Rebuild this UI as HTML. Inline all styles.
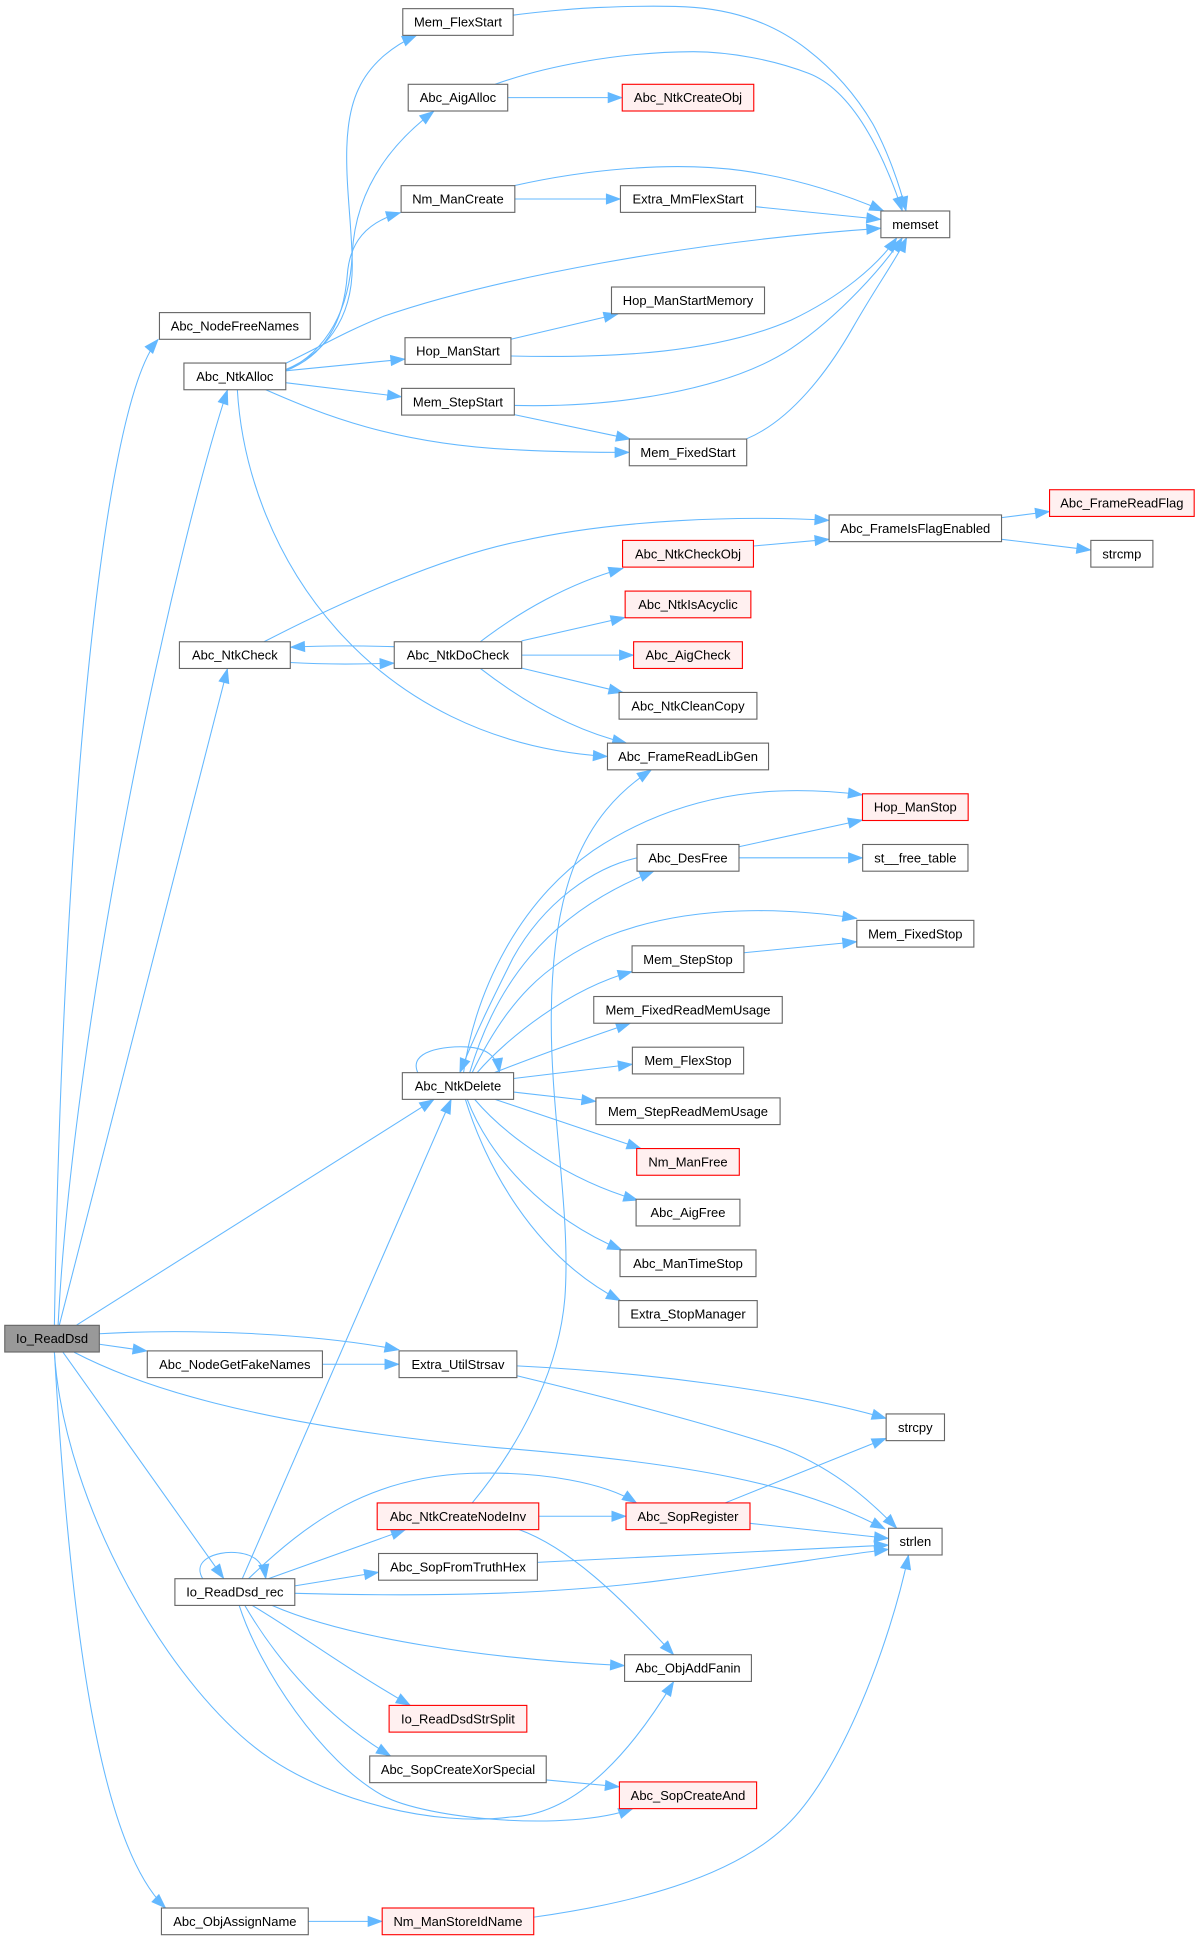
<!DOCTYPE html>
<html><head><meta charset="utf-8"><style>
html,body{margin:0;padding:0;background:#fff;}
svg{display:block;}
.n{fill:#fff;stroke:#666;stroke-width:0.9;}
.r{fill:#fff0f0;stroke:#f00;stroke-width:0.9;}
.g{fill:#999;stroke:#666;stroke-width:0.9;}
text{font-family:"Liberation Sans",Arial,sans-serif;font-size:10.5px;fill:#000;text-anchor:middle;}
.e path{fill:none;stroke:#63b8ff;stroke-width:0.85;marker-end:url(#a);}
</style></head><body>
<svg width="1199" height="1941" viewBox="0 0 970 1570.3" preserveAspectRatio="none" xmlns="http://www.w3.org/2000/svg">
<defs><marker id="a" markerUnits="userSpaceOnUse" markerWidth="12" markerHeight="9" viewBox="0 0 12 9" refX="11.5" refY="4.2" orient="auto" overflow="visible"><path d="M0,0 L11.5,4.2 L0,8.4 z" fill="#63b8ff" stroke="#63b8ff" stroke-width="0.5"/></marker></defs>
<rect width="970" height="1570.3" fill="#fff"/>
<g class="e">
<path d="M44,1072 C50,700 80,330 128,274.5"/>
<path d="M47,1072 C60,820 140,450 184,315.5"/>
<path d="M48,1072 L184,541"/>
<path d="M62,1072 L351,889.6"/>
<path d="M80.4,1087.5 L119,1093"/>
<path d="M80.4,1079 C150,1075 250,1078 322.8,1092"/>
<path d="M60,1094 C110,1120 200,1152 400,1171 C560,1184 645,1200 716,1237"/>
<path d="M51,1094 L181,1277"/>
<path d="M44,1094 C52,1220 140,1370 219,1423 C270,1457 350,1478 413,1470 C470,1468 515,1410 545,1360.5"/>
<path d="M44,1094 C56,1300 78,1490 134,1543.6"/>
<path d="M231,299 C262,286 285,260 285,215 C285,170 272,110 290,72 C300,50 320,36 337,28.6"/>
<path d="M231,300 C265,284 283,250 285,205 C287,165 305,125 351,90"/>
<path d="M231,300 C262,288 278,262 281,222 C283,196 296,180 324,172"/>
<path d="M231,294 C260,280 280,268 310,256 C400,225 560,195 712.6,184.7"/>
<path d="M231,300 L327.6,290.5"/>
<path d="M231,309.6 L324.9,321"/>
<path d="M215,315.3 C260,335 320,360 420,364 C460,366 490,366 509,366"/>
<path d="M192,315.3 C200,450 300,600 491.4,612"/>
<path d="M234.8,536 C260,537.5 290,537.5 318.9,536.5"/>
<path d="M318.9,523.2 C290,522.3 260,522.3 235,523.6"/>
<path d="M213.6,519.2 C280,485 360,450 420,438 C500,420 600,417 670.7,421"/>
<path d="M388.6,519.2 C420,495 460,472 504,459.8"/>
<path d="M422,518.5 L505.7,499.5"/>
<path d="M422,530 L512.6,530"/>
<path d="M422,540.5 L504,560.2"/>
<path d="M388.6,540.8 C420,565 460,590 507,601.2"/>
<path d="M410.75,79 L503.4,79"/>
<path d="M400.6,68.2 C440,54 500,42 561,41.8 C590,42 625,48 654,59.3 C690,73 715,125 730,170.7"/>
<path d="M415,12.3 C440,9 470,6.5 485.5,6 C510,5 540,4.5 561.9,6 C600,9 630,22 653,40 C675,57 693,78 706,100 C718,122 728,150 733,170.7"/>
<path d="M416.5,161 L501.95,161"/>
<path d="M416,150.2 C470,138 540,130 600,138 C650,145 690,160 715,170.7"/>
<path d="M611.1,167.2 L712.6,177.5"/>
<path d="M413.3,274.5 L500,254"/>
<path d="M413.3,288 C500,290 580,285 640,259 C680,240 710,215 725.5,192.3"/>
<path d="M416,328 C500,330 590,315 640,282 C680,255 715,215 730,192.3"/>
<path d="M416,335.4 L510,355.2"/>
<path d="M604,355 C640,340 670,300 690,265 C710,230 725,210 733.5,192.3"/>
<path d="M609.6,441.7 L670.75,436.3"/>
<path d="M810.3,418.8 L849.1,413.8"/>
<path d="M810.3,436.3 L882.5,445"/>
<path d="M375,867.8 C385,800 420,730 480,688 C560,635 640,636 697.75,643"/>
<path d="M380,867.8 C400,800 440,740 529,704.8"/>
<path d="M515.4,694 C480,702 440,730 415,775 C400,805 385,835 372,867.8"/>
<path d="M382,867.8 C410,810 440,780 490,758 C560,730 640,735 693.2,743"/>
<path d="M386,867.8 C410,840 460,800 511.4,786"/>
<path d="M400,867.8 C440,852 480,838 510,827.8"/>
<path d="M415.5,872.5 L511.6,861"/>
<path d="M415.5,883.5 L482.1,891"/>
<path d="M400.5,889.4 L518.6,929.2"/>
<path d="M384,889.4 C410,920 460,955 516,971"/>
<path d="M378,889.4 C395,935 440,985 503,1011.2"/>
<path d="M376.5,889.4 C392,940 430,1015 502,1052.2"/>
<path d="M338,867.8 C330,850 360,846 378,847 C392,848 402,853 404,867.8"/>
<path d="M597.8,685 L697.75,663.4"/>
<path d="M597.8,694 L697.9,694"/>
<path d="M601.8,770.8 L693.2,761.9"/>
<path d="M196,1277.2 L365,889.4"/>
<path d="M164,1277.2 C155,1262 175,1255 190,1256 C205,1257 213,1263 215,1277.2"/>
<path d="M217,1277.2 L328,1237.5"/>
<path d="M201,1277.2 C250,1230 300,1195 380,1192 C440,1190 490,1200 515,1215.9"/>
<path d="M238.5,1283 L306.25,1272"/>
<path d="M238.5,1289 C350,1292 450,1290 540,1278 C620,1268 680,1258 718.85,1253.5"/>
<path d="M220,1298.8 C280,1325 390,1342 505.3,1347.5"/>
<path d="M204,1298.8 C240,1320 280,1350 332,1379.7"/>
<path d="M198,1298.8 C225,1345 265,1390 316,1420.6"/>
<path d="M193.5,1298.8 C210,1350 260,1425 309.6,1452.6 C345,1472 460,1482 512,1463.2"/>
<path d="M435.8,1226.7 L506.45,1226.7"/>
<path d="M420,1237.5 C460,1252 500,1290 545,1338.7"/>
<path d="M382,1215.9 C420,1170 452,1110 457,1050 C462,980 445,900 446,820 C447,720 470,660 527,622.8"/>
<path d="M434.5,1264 L718.85,1250"/>
<path d="M606.6,1232.4 L718.85,1244.6"/>
<path d="M586.6,1215.9 L716.9,1163.6"/>
<path d="M418.2,1105 C520,1110 640,1125 716.9,1147.5"/>
<path d="M418.2,1113 C480,1128 560,1148 628,1170 C670,1185 700,1210 725.5,1236.4"/>
<path d="M442,1440 L501.1,1445.5"/>
<path d="M260.9,1103.7 L322.85,1103.7"/>
<path d="M249.4,1554.4 L309.2,1554.4"/>
<path d="M432,1551 C510,1540 590,1520 635,1478 C680,1436 720,1330 735,1258"/>
</g>
<g>
<rect class="g" x="3.85" y="1072.2" width="76.5" height="21.6"/><text x="42.1" y="1086.7">Io_ReadDsd</text>
<rect class="n" x="129" y="252.9" width="122" height="21.6"/><text x="190" y="267.4">Abc_NodeFreeNames</text>
<rect class="n" x="148.8" y="293.7" width="82.4" height="21.6"/><text x="190" y="308.2">Abc_NtkAlloc</text>
<rect class="n" x="145.15" y="519.2" width="89.7" height="21.6"/><text x="190" y="533.7">Abc_NtkCheck</text>
<rect class="n" x="119.15" y="1092.9" width="141.7" height="21.6"/><text x="190" y="1107.4">Abc_NodeGetFakeNames</text>
<rect class="n" x="141.5" y="1277.2" width="97" height="21.6"/><text x="190" y="1291.7">Io_ReadDsd_rec</text>
<rect class="n" x="130.6" y="1543.6" width="118.8" height="21.6"/><text x="190" y="1558.1">Abc_ObjAssignName</text>
<rect class="n" x="325.85" y="7" width="89.3" height="21.6"/><text x="370.5" y="21.5">Mem_FlexStart</text>
<rect class="n" x="330.25" y="68.2" width="80.5" height="21.6"/><text x="370.5" y="82.7">Abc_AigAlloc</text>
<rect class="n" x="324.5" y="150.2" width="92" height="21.6"/><text x="370.5" y="164.7">Nm_ManCreate</text>
<rect class="n" x="327.65" y="273.2" width="85.7" height="21.6"/><text x="370.5" y="287.7">Hop_ManStart</text>
<rect class="n" x="324.9" y="314.2" width="91.2" height="21.6"/><text x="370.5" y="328.7">Mem_StepStart</text>
<rect class="n" x="318.95" y="519.2" width="103.1" height="21.6"/><text x="370.5" y="533.7">Abc_NtkDoCheck</text>
<rect class="n" x="325.5" y="867.8" width="90" height="21.6"/><text x="370.5" y="882.3">Abc_NtkDelete</text>
<rect class="n" x="322.85" y="1092.9" width="95.3" height="21.6"/><text x="370.5" y="1107.4">Extra_UtilStrsav</text>
<rect class="r" x="305.15" y="1215.9" width="130.7" height="21.6"/><text x="370.5" y="1230.4">Abc_NtkCreateNodeInv</text>
<rect class="n" x="306.25" y="1256.8" width="128.5" height="21.6"/><text x="370.5" y="1271.3">Abc_SopFromTruthHex</text>
<rect class="r" x="314.8" y="1379.7" width="111.4" height="21.6"/><text x="370.5" y="1394.2">Io_ReadDsdStrSplit</text>
<rect class="n" x="299.1" y="1420.6" width="142.8" height="21.6"/><text x="370.5" y="1435.1">Abc_SopCreateXorSpecial</text>
<rect class="r" x="309.2" y="1543.6" width="122.6" height="21.6"/><text x="370.5" y="1558.1">Nm_ManStoreIdName</text>
<rect class="r" x="503.4" y="68.2" width="106.4" height="21.6"/><text x="556.6" y="82.7">Abc_NtkCreateObj</text>
<rect class="n" x="501.95" y="150.2" width="109.3" height="21.6"/><text x="556.6" y="164.7">Extra_MmFlexStart</text>
<rect class="n" x="494.7" y="232.2" width="123.8" height="21.6"/><text x="556.6" y="246.7">Hop_ManStartMemory</text>
<rect class="n" x="509.1" y="355.2" width="95" height="21.6"/><text x="556.6" y="369.7">Mem_FixedStart</text>
<rect class="r" x="503.65" y="437.2" width="105.9" height="21.6"/><text x="556.6" y="451.7">Abc_NtkCheckObj</text>
<rect class="r" x="505.75" y="478.2" width="101.7" height="21.6"/><text x="556.6" y="492.7">Abc_NtkIsAcyclic</text>
<rect class="r" x="512.6" y="519.2" width="88" height="21.6"/><text x="556.6" y="533.7">Abc_AigCheck</text>
<rect class="n" x="500.85" y="560.2" width="111.5" height="21.6"/><text x="556.6" y="574.7">Abc_NtkCleanCopy</text>
<rect class="n" x="491.45" y="601.2" width="130.3" height="21.6"/><text x="556.6" y="615.7">Abc_FrameReadLibGen</text>
<rect class="n" x="515.35" y="683.2" width="82.5" height="21.6"/><text x="556.6" y="697.7">Abc_DesFree</text>
<rect class="n" x="511.35" y="765.2" width="90.5" height="21.6"/><text x="556.6" y="779.7">Mem_StepStop</text>
<rect class="n" x="480.35" y="806.2" width="152.5" height="21.6"/><text x="556.6" y="820.7">Mem_FixedReadMemUsage</text>
<rect class="n" x="511.6" y="847.2" width="90" height="21.6"/><text x="556.6" y="861.7">Mem_FlexStop</text>
<rect class="n" x="482.1" y="888.2" width="149" height="21.6"/><text x="556.6" y="902.7">Mem_StepReadMemUsage</text>
<rect class="r" x="515.1" y="929.2" width="83" height="21.6"/><text x="556.6" y="943.7">Nm_ManFree</text>
<rect class="n" x="514.6" y="970.2" width="84" height="21.6"/><text x="556.6" y="984.7">Abc_AigFree</text>
<rect class="n" x="501.6" y="1011.2" width="110" height="21.6"/><text x="556.6" y="1025.7">Abc_ManTimeStop</text>
<rect class="n" x="500.6" y="1052.2" width="112" height="21.6"/><text x="556.6" y="1066.7">Extra_StopManager</text>
<rect class="r" x="506.45" y="1215.9" width="100.3" height="21.6"/><text x="556.6" y="1230.4">Abc_SopRegister</text>
<rect class="n" x="505.3" y="1338.7" width="102.6" height="21.6"/><text x="556.6" y="1353.2">Abc_ObjAddFanin</text>
<rect class="r" x="501.1" y="1441.6" width="111" height="21.6"/><text x="556.6" y="1456.1">Abc_SopCreateAnd</text>
<rect class="n" x="712.65" y="170.7" width="55.7" height="21.6"/><text x="740.5" y="185.2">memset</text>
<rect class="n" x="670.75" y="416.6" width="139.5" height="21.6"/><text x="740.5" y="431.1">Abc_FrameIsFlagEnabled</text>
<rect class="r" x="697.75" y="642.2" width="85.5" height="21.6"/><text x="740.5" y="656.7">Hop_ManStop</text>
<rect class="n" x="697.9" y="683.2" width="85.2" height="21.6"/><text x="740.5" y="697.7">st__free_table</text>
<rect class="n" x="693.15" y="744.6" width="94.7" height="21.6"/><text x="740.5" y="759.1">Mem_FixedStop</text>
<rect class="n" x="716.9" y="1143.9" width="47.2" height="21.6"/><text x="740.5" y="1158.4">strcpy</text>
<rect class="n" x="718.85" y="1236.4" width="43.3" height="21.6"/><text x="740.5" y="1250.9">strlen</text>
<rect class="r" x="849.1" y="396.2" width="117" height="21.6"/><text x="907.6" y="410.7">Abc_FrameReadFlag</text>
<rect class="n" x="882.5" y="437.2" width="50.2" height="21.6"/><text x="907.6" y="451.7">strcmp</text>
</g>
</svg>
</body></html>
